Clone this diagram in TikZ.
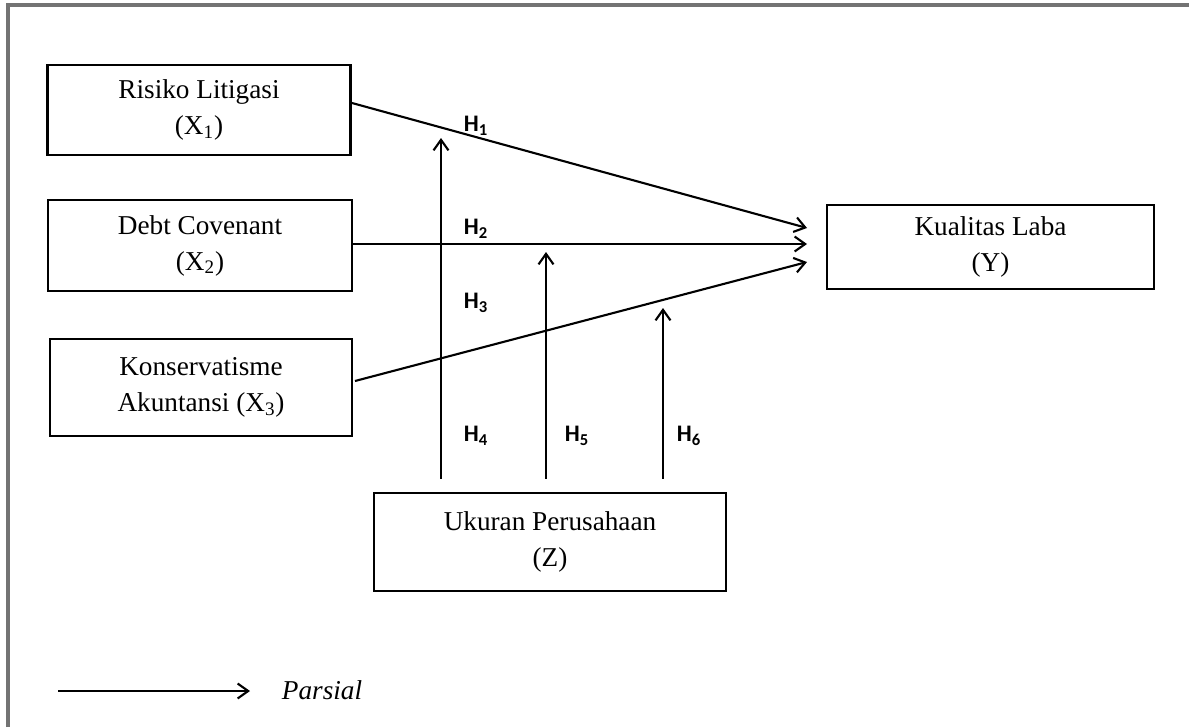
\documentclass[tikz,border=0pt]{standalone}
\usepackage{fontspec}
\setmainfont{Liberation Serif}
\newfontfamily\hfont{Carlito}
\usepackage{tikz}
\usetikzlibrary{arrows.meta}

\begin{document}
\begin{tikzpicture}[
  x=0.02cm, y=-0.02cm,
  varbox/.style={draw, line width=1.5pt, align=center, inner sep=0pt,
    font=\fontsize{15.5}{20.5}\selectfont},
  arr/.style={line width=1.2pt, -{Straight Barb[length=6pt, width=8.5pt, line width=1.2pt]}},
  hlabel/.style={font=\hfont\bfseries\fontsize{13.5}{15}\selectfont},
]
  \useasboundingbox (0,0) rectangle (1189,727);

  % Frame
  \draw[black!55, line width=2pt] (8,727) -- (8,5) -- (1189,5);

  % Variables
  \node[varbox, minimum width=6.06cm, minimum height=1.8cm] (x1) at (199,110) {Risiko Litigasi\\(X\textsubscript{1})};
  \node[varbox, minimum width=6.08cm, minimum height=1.82cm] (x2) at (200,245.5) {Debt Covenant\\(X\textsubscript{2})};
  \node[varbox, minimum width=6.04cm, minimum height=1.94cm] (x3) at (201,387.5) {Konservatisme\\Akuntansi (X\textsubscript{3})};
  \node[varbox, minimum width=6.54cm, minimum height=1.68cm] (y) at (990.5,247) {Kualitas Laba\\(Y)};
  \node[varbox, minimum width=7.04cm, minimum height=1.96cm] (z) at (550,542) {Ukuran Perusahaan\\(Z)};

  % Arrow ends
  \coordinate (y1) at (807,228);
  \coordinate (y2) at (807,244);
  \coordinate (y3) at (807,262);
  \coordinate (m4) at (441,138);
  \coordinate (m5) at (546,252);
  \coordinate (m6) at (663,308);

  % Direct effects
  \draw[arr] (352,103) -- (y1);
  \draw[arr] (x2.east |- y2) -- (y2);
  \draw[arr] (355,381) -- (y3);

  % Moderation
  \draw[arr] (z.north -| m4) ++(0,-13) -- (m4);
  \draw[arr] (z.north -| m5) ++(0,-13) -- (m5);
  \draw[arr] (z.north -| m6) ++(0,-13) -- (m6);

  % Hypotheses
  \node[hlabel] (h1) at (476,126) {H\textsubscript{1}};
  \node[hlabel] (h2) at (476,229) {H\textsubscript{2}};
  \node[hlabel] (h3) at (476,303) {H\textsubscript{3}};
  \node[hlabel] (h4) at (476,436) {H\textsubscript{4}};
  \node[hlabel] (h5) at (577,436) {H\textsubscript{5}};
  \node[hlabel] (h6) at (689,436) {H\textsubscript{6}};

  % Legend
  \coordinate (lg) at (58,691);
  \node[font=\fontsize{15.5}{18}\selectfont\itshape] (parsial) at (322,690) {Parsial};
  \draw[arr] (lg) -- (250,691);

\end{tikzpicture}
\end{document}
